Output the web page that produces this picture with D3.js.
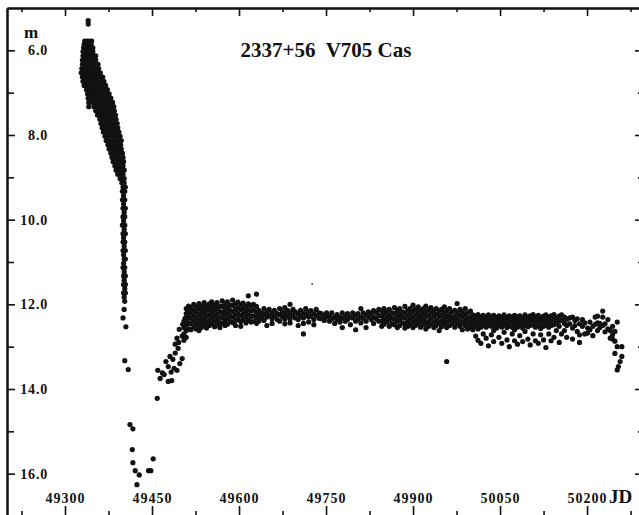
<!DOCTYPE html>
<html>
<head>
<meta charset="utf-8">
<script src="https://cdn.jsdelivr.net/npm/d3@7"></script>
<style>
  body { margin: 0; background: #fff; }
  svg text { font-family: "Liberation Serif", "Times New Roman", serif; font-weight: bold; fill: #111; }
</style>
</head>
<body>
<svg id="chart" width="639" height="515"></svg>
<script>
// axis ticks
var jdTicks = [49300, 49450, 49600, 49750, 49900, 50050, 50200];
var jdMinorTicks = [49225, 49375, 49525, 49675, 49825, 49975, 50125, 50275];
var magTicks = [6, 8, 10, 12, 14, 16];
var magMinorTicks = [7, 9, 11, 13, 15];
var magLabels = ["6.0", "8.0", "10.0", "12.0", "14.0", "16.0"];

var title = "2337+56  V705 Cas";

// fading: rows are [mag, JD, JD, ...]
var declineRows = [
  [5.30, 49340], [5.38, 49340],
  [5.78, 49334, 49338, 49342, 49346],
  [5.86, 49333, 49337, 49341, 49345],
  [5.94, 49332, 49336, 49340, 49344, 49348],
  [6.03, 49331, 49335, 49339, 49343, 49348],
  [6.13, 49331, 49335, 49339, 49344, 49349, 49353],
  [6.23, 49330, 49334, 49339, 49343, 49348, 49353],
  [6.33, 49330, 49334, 49338, 49343, 49348, 49353, 49357],
  [6.43, 49329, 49333, 49338, 49342, 49347, 49352, 49358],
  [6.53, 49328, 49333, 49337, 49342, 49347, 49352, 49357, 49361],
  [6.63, 49330, 49335, 49340, 49345, 49350, 49355, 49360, 49365],
  [6.73, 49331, 49336, 49341, 49346, 49351, 49356, 49362, 49367],
  [6.83, 49333, 49338, 49343, 49348, 49353, 49359, 49364, 49370],
  [6.93, 49337, 49342, 49347, 49352, 49357, 49363, 49368, 49373],
  [7.03, 49339, 49344, 49349, 49354, 49360, 49365, 49370, 49376],
  [7.13, 49340, 49346, 49351, 49357, 49362, 49367, 49373, 49379],
  [7.23, 49341, 49348, 49353, 49358, 49364, 49369, 49375, 49382],
  [7.33, 49341, 49350, 49355, 49361, 49366, 49372, 49378, 49384],
  [7.43, 49353, 49358, 49363, 49369, 49374, 49380, 49385],
  [7.53, 49356, 49361, 49367, 49372, 49377, 49383, 49387],
  [7.63, 49360, 49365, 49370, 49376, 49381, 49388],
  [7.73, 49362, 49367, 49373, 49378, 49384, 49390],
  [7.83, 49364, 49369, 49375, 49380, 49386, 49391],
  [7.93, 49366, 49372, 49377, 49383, 49388, 49393],
  [8.03, 49369, 49374, 49380, 49385, 49391, 49395],
  [8.13, 49371, 49376, 49382, 49388, 49393, 49397],
  [8.23, 49374, 49379, 49385, 49391, 49396],
  [8.33, 49376, 49382, 49387, 49392, 49397],
  [8.43, 49379, 49384, 49389, 49394, 49399],
  [8.53, 49381, 49386, 49391, 49396, 49400],
  [8.63, 49383, 49388, 49393, 49398, 49401],
  [8.73, 49386, 49391, 49396, 49400],
  [8.83, 49388, 49393, 49398, 49402],
  [8.93, 49391, 49396, 49400],
  [9.03, 49395, 49399, 49402],
  [9.13, 49398, 49402], [9.23, 49400, 49404], [9.33, 49399, 49403], [9.43, 49401],
  [9.53, 49399, 49403], [9.63, 49401], [9.73, 49400, 49404], [9.83, 49402],
  [9.93, 49400, 49403], [10.03, 49401], [10.13, 49399, 49403], [10.23, 49402],
  [10.33, 49400, 49404], [10.43, 49401], [10.53, 49400, 49403], [10.63, 49402],
  [10.73, 49400, 49404], [10.83, 49401], [10.93, 49402, 49404], [11.03, 49401],
  [11.13, 49400, 49403], [11.23, 49402], [11.33, 49401, 49404], [11.43, 49402],
  [11.53, 49401, 49404], [11.63, 49403], [11.73, 49401, 49404], [11.83, 49402],
  [11.93, 49403], [12.12, 49402], [12.32, 49400], [12.53, 49405]
];

// deep minimum and recovery: [JD, mag]
var minimumPoints = [
  [49403, 13.33], [49409, 13.54], [49412, 14.84], [49417, 14.94], [49416, 15.43],
  [49417, 15.74], [49421, 15.93], [49428, 16.03], [49424, 16.26], [49444, 15.93],
  [49448, 15.93], [49452, 15.65], [49459, 14.22]
];
var risePoints = [
  [49460, 13.56], [49464, 13.75], [49471, 13.66], [49478, 13.82], [49484, 13.8],
  [49474, 13.35], [49481, 13.23], [49486, 13.3], [49490, 12.94], [49493, 12.8],
  [49497, 12.59], [49495, 13.04], [49502, 13.28], [49493, 13.56], [49498, 13.4],
  [49502, 12.75], [49503, 12.47], [49507, 12.33], [49488, 13.51], [49478, 13.47],
  [49483, 13.6], [49468, 13.62], [49490, 13.15], [49496, 12.9]
];

// plateau: rows are [JD, mag, mag, ...]
var plateauNights = [
  [49505, 12.4, 12.55, 12.7, 12.85],
  [49509, 12.1, 12.22, 12.35, 12.48, 12.62, 12.78],
  [49513, 12.04, 12.16, 12.3, 12.44, 12.58],
  [49517, 12.08, 12.2, 12.33, 12.46, 12.6],
  [49522, 12.0, 12.14, 12.27, 12.4, 12.54],
  [49526, 12.06, 12.18, 12.32, 12.45, 12.58],
  [49531, 11.98, 12.1, 12.24, 12.37, 12.5, 12.62],
  [49535, 12.04, 12.17, 12.3, 12.43, 12.55],
  [49540, 11.96, 12.1, 12.22, 12.36, 12.48],
  [49544, 12.03, 12.15, 12.28, 12.42, 12.56],
  [49549, 11.99, 12.12, 12.25, 12.38, 12.5],
  [49553, 11.94, 12.07, 12.2, 12.33, 12.46],
  [49558, 12.02, 12.14, 12.27, 12.4, 12.53],
  [49562, 11.96, 12.09, 12.23, 12.36, 12.48],
  [49567, 12.04, 12.17, 12.3, 12.43, 12.55],
  [49571, 11.92, 12.05, 12.19, 12.32, 12.45],
  [49576, 11.99, 12.12, 12.25, 12.38, 12.5],
  [49580, 11.94, 12.08, 12.21, 12.34, 12.47],
  [49585, 12.02, 12.15, 12.28, 12.41],
  [49589, 11.9, 12.03, 12.17, 12.3, 12.43],
  [49594, 11.99, 12.12, 12.25, 12.38, 12.5],
  [49598, 11.95, 12.09, 12.22, 12.35],
  [49603, 12.01, 12.13, 12.27, 12.41, 12.52],
  [49607, 11.97, 12.1, 12.23, 12.36],
  [49612, 12.04, 12.17, 12.3, 12.44],
  [49616, 11.8, 11.99, 12.12, 12.25, 12.38],
  [49621, 12.03, 12.16, 12.29, 12.42],
  [49625, 12.0, 12.13, 12.27, 12.4],
  [49630, 11.76, 12.05, 12.19, 12.32, 12.45],
  [49634, 12.14, 12.27, 12.4],
  [49639, 12.2, 12.33],
  [49643, 12.1, 12.24, 12.38],
  [49648, 12.17, 12.3, 12.5],
  [49652, 12.12, 12.26],
  [49657, 12.2, 12.34, 12.45],
  [49661, 12.14, 12.28],
  [49666, 12.22, 12.36],
  [49670, 12.1, 12.25, 12.4],
  [49675, 12.18, 12.3],
  [49679, 12.08, 12.22, 12.35, 12.46],
  [49684, 12.15, 12.28],
  [49688, 12.0, 12.2, 12.34, 12.44],
  [49693, 12.12, 12.26],
  [49697, 12.18, 12.32],
  [49702, 12.22, 12.36, 12.5],
  [49706, 12.14, 12.28],
  [49711, 12.2, 12.32, 12.45, 12.7],
  [49715, 12.1, 12.25],
  [49720, 12.18, 12.3, 12.42],
  [49724, 12.15, 12.28],
  [49729, 12.22, 12.36, 12.48],
  [49733, 12.12, 12.26],
  [49738, 12.2, 12.33],
  [49742, 12.22, 12.34],
  [49747, 12.26, 12.38],
  [49751, 12.2, 12.3],
  [49756, 12.28, 12.4],
  [49760, 12.2, 12.34],
  [49765, 12.3, 12.45],
  [49769, 12.24, 12.36],
  [49774, 12.3, 12.42],
  [49778, 12.2, 12.33, 12.55],
  [49783, 12.28, 12.4],
  [49787, 12.22, 12.36],
  [49792, 12.3, 12.48],
  [49796, 12.2, 12.32],
  [49801, 12.26, 12.4, 12.6],
  [49805, 12.22, 12.35],
  [49810, 12.1, 12.3, 12.44],
  [49814, 12.2, 12.33],
  [49819, 12.25, 12.4, 12.55],
  [49823, 12.18, 12.3],
  [49828, 12.22, 12.36],
  [49832, 12.15, 12.3, 12.45],
  [49837, 12.2, 12.34],
  [49841, 12.12, 12.26, 12.4],
  [49846, 12.15, 12.28, 12.4, 12.52],
  [49850, 12.1, 12.22, 12.35, 12.47],
  [49855, 12.18, 12.3, 12.42],
  [49859, 12.12, 12.26, 12.38, 12.52],
  [49864, 12.2, 12.33, 12.46],
  [49868, 12.08, 12.22, 12.35, 12.48],
  [49873, 12.15, 12.28, 12.4, 12.55],
  [49877, 12.1, 12.24, 12.36, 12.5],
  [49882, 12.18, 12.3, 12.44],
  [49886, 12.05, 12.2, 12.32, 12.46, 12.56],
  [49891, 12.14, 12.27, 12.4, 12.52],
  [49895, 12.1, 12.22, 12.35, 12.48],
  [49900, 12.02, 12.16, 12.3, 12.42, 12.55],
  [49904, 12.12, 12.25, 12.38, 12.5],
  [49909, 12.06, 12.2, 12.33, 12.46],
  [49913, 12.14, 12.28, 12.4, 12.54],
  [49918, 12.1, 12.22, 12.36, 12.48],
  [49922, 12.04, 12.18, 12.3, 12.44, 12.58],
  [49927, 12.12, 12.26, 12.4, 12.52],
  [49931, 12.08, 12.2, 12.34, 12.47],
  [49936, 12.15, 12.28, 12.42, 12.55],
  [49940, 12.1, 12.24, 12.38, 12.5],
  [49945, 12.18, 12.3, 12.44, 12.62],
  [49949, 12.12, 12.26, 12.4, 12.53],
  [49954, 12.06, 12.2, 12.34, 12.46],
  [49958, 12.15, 12.28, 12.42, 12.55, 13.35],
  [49963, 12.1, 12.24, 12.36, 12.5],
  [49967, 12.18, 12.32, 12.45],
  [49972, 12.14, 12.28, 12.4, 12.54],
  [49976, 11.98, 12.2, 12.34, 12.47],
  [49981, 12.12, 12.26, 12.4, 12.52],
  [49985, 12.18, 12.3, 12.44, 12.6],
  [49990, 12.1, 12.24, 12.38, 12.5],
  [49994, 12.2, 12.33, 12.46, 12.58],
  [49999, 12.16, 12.3, 12.42, 12.55],
  [50003, 12.25, 12.36, 12.48, 12.6],
  [50008, 12.28, 12.4, 12.52, 12.75],
  [50012, 12.24, 12.35, 12.47, 12.58, 12.85],
  [50017, 12.3, 12.42, 12.54, 12.92],
  [50021, 12.26, 12.38, 12.5, 12.7],
  [50026, 12.3, 12.42, 12.54, 12.8],
  [50030, 12.25, 12.37, 12.49, 12.98],
  [50035, 12.3, 12.41, 12.52, 12.72],
  [50039, 12.26, 12.38, 12.5, 12.62, 12.88],
  [50044, 12.32, 12.44, 12.56],
  [50048, 12.27, 12.38, 12.5, 12.78],
  [50053, 12.3, 12.42, 12.54, 12.92],
  [50057, 12.25, 12.36, 12.48, 12.66],
  [50062, 12.31, 12.43, 12.55, 12.84],
  [50066, 12.27, 12.39, 12.51, 13.0],
  [50071, 12.3, 12.42, 12.54, 12.7],
  [50075, 12.26, 12.37, 12.49, 12.6, 12.86],
  [50080, 12.3, 12.42, 12.54, 12.94],
  [50084, 12.27, 12.39, 12.5, 12.74],
  [50089, 12.32, 12.44, 12.56, 12.88],
  [50093, 12.25, 12.37, 12.49, 12.64],
  [50098, 12.3, 12.42, 12.53, 12.82],
  [50102, 12.27, 12.38, 12.5, 12.96],
  [50107, 12.24, 12.36, 12.48, 12.7],
  [50111, 12.3, 12.42, 12.54, 12.86],
  [50116, 12.26, 12.38, 12.5, 12.92],
  [50120, 12.31, 12.43, 12.57, 12.72],
  [50125, 12.28, 12.4, 12.52, 12.84],
  [50129, 12.25, 12.37, 12.49, 13.02],
  [50134, 12.3, 12.42, 12.54, 12.7],
  [50138, 12.27, 12.39, 12.5, 12.86],
  [50143, 12.24, 12.36, 12.48, 12.78],
  [50147, 12.32, 12.44, 12.62],
  [50152, 12.28, 12.4, 12.52, 12.9],
  [50156, 12.25, 12.38, 12.7],
  [50161, 12.3, 12.45, 12.62],
  [50165, 12.35, 12.5, 12.78],
  [50170, 12.32, 12.46],
  [50175, 12.3, 12.56, 12.82],
  [50179, 12.38, 12.5],
  [50183, 12.34, 12.64],
  [50187, 12.46, 12.72, 12.9],
  [50192, 12.36, 12.52],
  [50196, 12.44, 12.7],
  [50201, 12.56, 12.68],
  [50205, 12.42, 12.6],
  [50210, 12.52, 12.74],
  [50214, 12.3, 12.47],
  [50218, 12.28, 12.44, 12.62],
  [50222, 12.45, 12.55],
  [50227, 12.16, 12.3, 12.5],
  [50231, 12.46, 12.65],
  [50236, 12.36, 12.58],
  [50240, 12.62, 12.8],
  [50244, 12.52, 12.72, 12.82],
  [50248, 12.64, 12.87, 13.16],
  [50252, 12.42, 13.0, 13.55],
  [50254, 13.47],
  [50257, 13.35],
  [50260, 13.0, 13.23]
];

// single faint dot above the plateau
var faintPoints = [[49726, 11.52]];

var svg = d3.select("#chart");

// scales (magnitude axis runs downward)
var x = d3.scaleLinear().domain([49200, 50293]).range([7, 641]);
var y = d3.scaleLinear().domain([5, 17]).range([8, 516]);

// flatten everything into [JD, mag]
var points = [];
declineRows.forEach(function(r) {
    r.slice(1).forEach(function(jd) { points.push([jd, r[0]]); });
});
minimumPoints.forEach(function(p) { points.push(p); });
risePoints.forEach(function(p) { points.push(p); });
plateauNights.forEach(function(r) {
    r.slice(1).forEach(function(m) { points.push([r[0], m]); });
});

// axes with inward ticks
function styleAxis(g, width) {
    g.select(".domain").attr("stroke", "#111").attr("stroke-width", width);
    g.selectAll(".tick line").attr("stroke", "#111").attr("stroke-width", 1.6);
    g.selectAll("text").attr("font-family", null).attr("fill", null);
}

var bottomMajor = svg.append("g")
    .attr("transform", "translate(0,516)")
    .call(d3.axisBottom(x).tickValues(jdTicks).tickSize(-10).tickSizeOuter(0)
        .tickPadding(-23).tickFormat(d3.format("d")))
    .call(styleAxis, 2);
bottomMajor.selectAll("text").attr("font-size", 14).style("letter-spacing", "1px");

svg.append("g")
    .attr("transform", "translate(0,516)")
    .call(d3.axisBottom(x).tickValues(jdMinorTicks).tickSize(-5).tickSizeOuter(0).tickFormat(""))
    .call(styleAxis, 2);

svg.append("g")
    .attr("transform", "translate(0,8)")
    .call(d3.axisTop(x).tickValues(jdTicks).tickSize(-8).tickSizeOuter(0).tickFormat(""))
    .call(styleAxis, 2);
svg.append("g")
    .attr("transform", "translate(0,8)")
    .call(d3.axisTop(x).tickValues(jdMinorTicks).tickSize(-4).tickSizeOuter(0).tickFormat(""))
    .call(styleAxis, 2);

var leftMajor = svg.append("g")
    .attr("transform", "translate(7,0)")
    .call(d3.axisLeft(y).tickValues(magTicks).tickSize(-8).tickSizeOuter(0)
        .tickPadding(-41).tickFormat(function(d, i) { return magLabels[i]; }))
    .call(styleAxis, 2);
leftMajor.selectAll("text").attr("font-size", 14).style("letter-spacing", "0.8px");

svg.append("g")
    .attr("transform", "translate(7,0)")
    .call(d3.axisLeft(y).tickValues(magMinorTicks).tickSize(-7).tickSizeOuter(0).tickFormat(""))
    .call(styleAxis, 2);

svg.append("g")
    .attr("transform", "translate(641,0)")
    .call(d3.axisRight(y).tickValues(magTicks).tickSize(-6).tickSizeOuter(0).tickFormat(""))
    .call(styleAxis, 2);
svg.append("g")
    .attr("transform", "translate(641,0)")
    .call(d3.axisRight(y).tickValues(magMinorTicks).tickSize(-3).tickSizeOuter(0).tickFormat(""))
    .call(styleAxis, 2);

// observations
svg.append("g")
    .selectAll("circle")
    .data(points)
    .enter()
    .append("circle")
    .attr("cx", function(d) { return x(d[0]); })
    .attr("cy", function(d) { return y(d[1]); })
    .attr("r", 2.6)
    .attr("fill", "#111");

svg.append("g")
    .selectAll("circle")
    .data(faintPoints)
    .enter()
    .append("circle")
    .attr("cx", function(d) { return x(d[0]); })
    .attr("cy", function(d) { return y(d[1]); })
    .attr("r", 1)
    .attr("fill", "#555");

// labels
svg.append("text")
    .attr("x", 326)
    .attr("y", 57)
    .attr("text-anchor", "middle")
    .attr("font-size", 21)
    .style("white-space", "pre")
    .text(title);

svg.append("text")
    .attr("x", 31)
    .attr("y", 38)
    .attr("text-anchor", "middle")
    .attr("font-size", 17)
    .text("m");

svg.append("text")
    .attr("x", 609)
    .attr("y", 503)
    .attr("font-size", 19)
    .text("JD");
</script>
</body>
</html>
